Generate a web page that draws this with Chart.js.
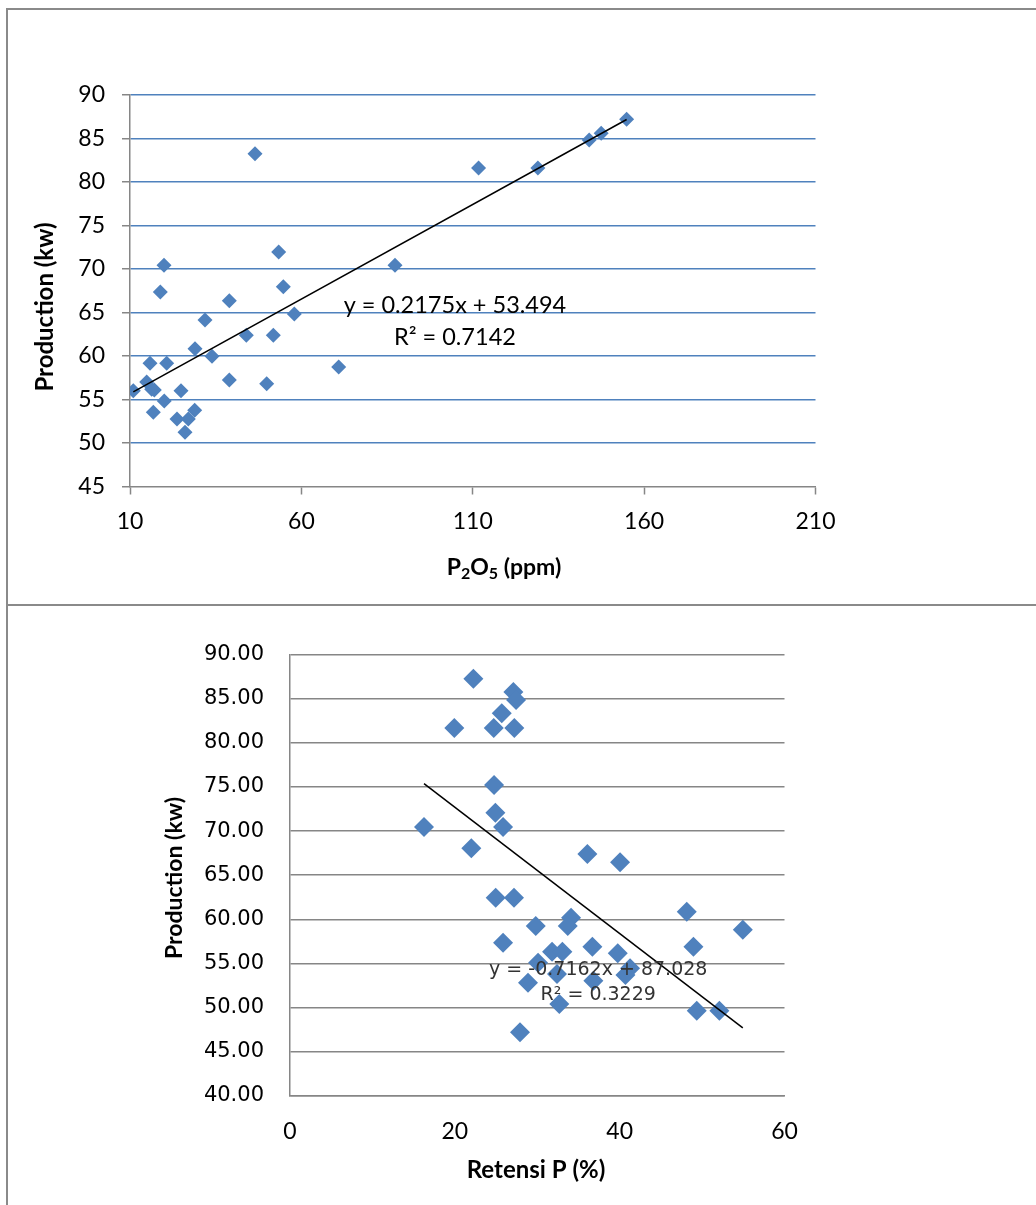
<!DOCTYPE html>
<html>
<head>
<meta charset="utf-8">
<script src="https://cdn.jsdelivr.net/npm/chart.js@4.4.1/dist/chart.umd.min.js"></script>
<style>
  html, body { margin: 0; padding: 0; background: #fff; }
  body { width: 1036px; height: 1205px; position: relative; overflow: hidden; }
  canvas { position: absolute; left: 0; }
  #c1 { top: 0; }
  #c2 { top: 605px; }
  .rule { position: absolute; background: #8a8a8a; }
</style>
</head>
<body>
<canvas id="c1" width="1036" height="605"></canvas>
<canvas id="c2" width="1036" height="600"></canvas>
<div class="rule" style="left:6px; top:8px; width:1030px; height:2px"></div>
<div class="rule" style="left:6px; top:8px; width:2px; height:1197px"></div>
<div class="rule" style="left:6px; top:604px; width:1030px; height:2px"></div>
<script>
// chart 1: P2O5 vs production
const p2o5 = [10.96, 14.87, 15.84, 16.33, 17.09, 16.8, 18.84, 19.92, 20.0, 20.71,
  23.71, 24.88, 26.05, 27.01, 28.88, 28.97, 31.88, 33.92, 38.97, 38.97,
  43.93, 46.47, 49.88, 51.81, 53.38, 54.73, 57.94, 70.89, 87.32, 111.7,
  129.0, 143.98, 147.48, 154.9]
const prodP2o5 = [56.0, 57.0, 59.16, 56.17, 56.09, 53.53, 67.36, 70.43, 54.83, 59.16,
  52.76, 56.01, 51.23, 52.76, 53.76, 60.84, 64.14, 59.97, 66.36, 57.24,
  62.38, 83.25, 56.82, 62.38, 71.95, 67.97, 64.83, 58.74, 70.43, 81.61,
  81.61, 84.83, 85.6, 87.21]
const xTicks1 = [10, 60, 110, 160, 210]
const yTicks1 = [45, 50, 55, 60, 65, 70, 75, 80, 85, 90]
const fit1 = { slope: 0.2175, intercept: 53.494, r2: "0.7142" }

// chart 2: Retensi P vs production
const retensi = [22.25, 27.1, 27.43, 25.69, 19.94, 24.72, 27.22, 24.76, 24.92, 16.26,
  25.85, 22.0, 36.08, 40.05, 24.96, 27.18, 48.14, 34.1, 33.7, 29.82,
  54.94, 25.85, 48.95, 36.69, 31.8, 33.05, 39.77, 30.1, 41.26, 32.4,
  40.7, 28.88, 36.81, 32.68, 49.35, 52.1, 27.91]
const prodRetensi = [87.28, 85.77, 84.86, 83.36, 81.69, 81.69, 81.69, 75.23, 72.09, 70.47,
  70.47, 68.05, 67.4, 66.46, 62.45, 62.45, 60.86, 60.18, 59.24, 59.24,
  58.82, 57.35, 56.89, 56.89, 56.33, 56.33, 56.14, 55.08, 54.44, 53.8,
  53.69, 52.81, 53.04, 50.4, 49.64, 49.64, 47.19]
const xTicks2 = [0, 20, 40, 60]
const yTicks2 = [40, 45, 50, 55, 60, 65, 70, 75, 80, 85, 90]
const fit2 = { slope: -0.7162, intercept: 87.028, r2: "0.3229" }

const blue = "#4F81BD"
const grey = "#868686"

const toPoints = (xs, ys) => xs.map((x, i) => ({ x: x, y: ys[i] }))

function trend(xs, fit) {
  const lo = Math.min(...xs)
  const hi = Math.max(...xs)
  return [{ x: lo, y: fit.slope * lo + fit.intercept }, { x: hi, y: fit.slope * hi + fit.intercept }]
}

// free text (axis titles, trendline equation); parts allow subscripts
const freeText = {
  id: "freeText",
  afterDraw(chart, args, opts) {
    const ctx = chart.ctx
    const sx = chart.scales.x
    const sy = chart.scales.y
    for (const it of opts.items || []) {
      const px = it.dataX != null ? sx.getPixelForValue(it.dataX) : it.x
      const py = it.dataY != null ? sy.getPixelForValue(it.dataY) : it.y
      ctx.save()
      ctx.fillStyle = it.color || "#000"
      ctx.textBaseline = "middle"
      ctx.translate(px, py)
      if (it.rotate) ctx.rotate(it.rotate)
      const parts = it.parts || [{ t: it.text }]
      let total = 0
      for (const p of parts) {
        ctx.font = p.sub ? it.subFont : it.font
        total += ctx.measureText(p.t).width
      }
      let cx = -total / 2
      ctx.textAlign = "left"
      for (const p of parts) {
        ctx.font = p.sub ? it.subFont : it.font
        ctx.fillText(p.t, cx, (it.dy || 0) + (p.sub ? 6 : 0))
        cx += ctx.measureText(p.t).width
      }
      ctx.restore()
    }
  }
}

const setTicks = list => scale => { scale.ticks = list.map(v => ({ value: v })) }

new Chart(document.getElementById("c1"), {
  type: "scatter",
  data: {
    datasets: [
      {
        type: "line",
        data: trend(p2o5, fit1),
        borderColor: "#000",
        borderWidth: 1.5,
        pointRadius: 0,
        fill: false
      },
      {
        data: toPoints(p2o5, prodP2o5),
        pointStyle: "rectRot",
        pointRadius: 7.5,
        backgroundColor: blue,
        borderWidth: 0
      }
    ]
  },
  options: {
    responsive: false,
    animation: false,
    events: [],
    layout: { padding: { left: 0, top: 95, right: 220.5, bottom: 0 } },
    plugins: {
      legend: { display: false },
      tooltip: { enabled: false },
      freeText: {
        items: [
          { text: "Production (kw)", x: 45, y: 307, rotate: -Math.PI / 2, font: "bold 24px Lato" },
          {
            parts: [{ t: "P" }, { t: "2", sub: true }, { t: "O" }, { t: "5", sub: true }, { t: " (ppm)" }],
            x: 504, y: 568, font: "bold 23px Lato", subFont: "bold 16px Lato"
          },
          { text: "y = " + fit1.slope + "x + " + fit1.intercept, dataX: 104.8, dataY: 65.86, font: "23.5px Lato" },
          { text: "R\u00B2 = " + fit1.r2, dataX: 104.8, dataY: 65.86, dy: 32, font: "23.5px Lato" }
        ]
      }
    },
    scales: {
      x: {
        type: "linear",
        min: xTicks1[0],
        max: xTicks1[xTicks1.length - 1],
        afterBuildTicks: setTicks(xTicks1),
        afterFit: s => { s.height = 118.5 },
        grid: { drawOnChartArea: false, drawTicks: true, tickLength: 8, tickColor: grey, tickWidth: 1.5 },
        border: { color: grey, width: 1.5 },
        ticks: { color: "#000", font: { family: "Lato", size: 23 }, padding: 13.4, maxRotation: 0 }
      },
      y: {
        min: yTicks1[0],
        max: yTicks1[yTicks1.length - 1],
        afterBuildTicks: setTicks(yTicks1),
        afterFit: s => { s.width = 130 },
        grid: {
          color: c => (c.tick && c.tick.value === yTicks1[0] ? "rgba(0,0,0,0)" : blue),
          lineWidth: 1.5,
          drawTicks: true,
          tickLength: 8,
          tickColor: grey,
          tickWidth: 1.5
        },
        border: { color: grey, width: 1.5 },
        ticks: { color: "#000", font: { family: "Lato", size: 23 }, padding: 17 }
      }
    }
  },
  plugins: [freeText]
})

new Chart(document.getElementById("c2"), {
  type: "scatter",
  data: {
    datasets: [
      {
        type: "line",
        data: trend(retensi, fit2),
        borderColor: "#000",
        borderWidth: 1.5,
        pointRadius: 0,
        fill: false
      },
      {
        data: toPoints(retensi, prodRetensi),
        pointStyle: "rectRot",
        pointRadius: 10,
        backgroundColor: blue,
        borderWidth: 0
      }
    ]
  },
  options: {
    responsive: false,
    animation: false,
    events: [],
    layout: { padding: { left: 0, top: 49.7, right: 251.5, bottom: 0 } },
    plugins: {
      legend: { display: false },
      tooltip: { enabled: false },
      freeText: {
        items: [
          { text: "Production (kw)", x: 175, y: 273, rotate: -Math.PI / 2, font: "bold 23px Lato" },
          { text: "Retensi P (%)", x: 536, y: 565, font: "bold 24px Lato" },
          { text: "y = " + fit2.slope + "x + " + fit2.intercept, dataX: 37.4, dataY: 54.25, font: "19px 'DejaVu Sans'", color: "#333" },
          { text: "R\u00B2 = " + fit2.r2, dataX: 37.4, dataY: 54.25, dy: 25, font: "19px 'DejaVu Sans'", color: "#333" }
        ]
      }
    },
    scales: {
      x: {
        type: "linear",
        min: xTicks2[0],
        max: xTicks2[xTicks2.length - 1],
        afterBuildTicks: setTicks(xTicks2),
        afterFit: s => { s.height = 109.3 },
        grid: { display: false, drawTicks: false },
        border: { color: grey, width: 1.5 },
        ticks: { color: "#000", font: { family: "Lato", size: 23 }, padding: 22.5, maxRotation: 0 }
      },
      y: {
        min: yTicks2[0],
        max: yTicks2[yTicks2.length - 1],
        afterBuildTicks: setTicks(yTicks2),
        afterFit: s => { s.width = 290 },
        grid: { color: grey, lineWidth: 1.5, drawTicks: false },
        border: { color: grey, width: 1.5 },
        ticks: {
          color: "#000",
          font: { family: "DejaVu Sans", size: 21 },
          padding: 26,
          callback: v => Number(v).toFixed(2)
        }
      }
    }
  },
  plugins: [freeText]
})
</script>
</body>
</html>
